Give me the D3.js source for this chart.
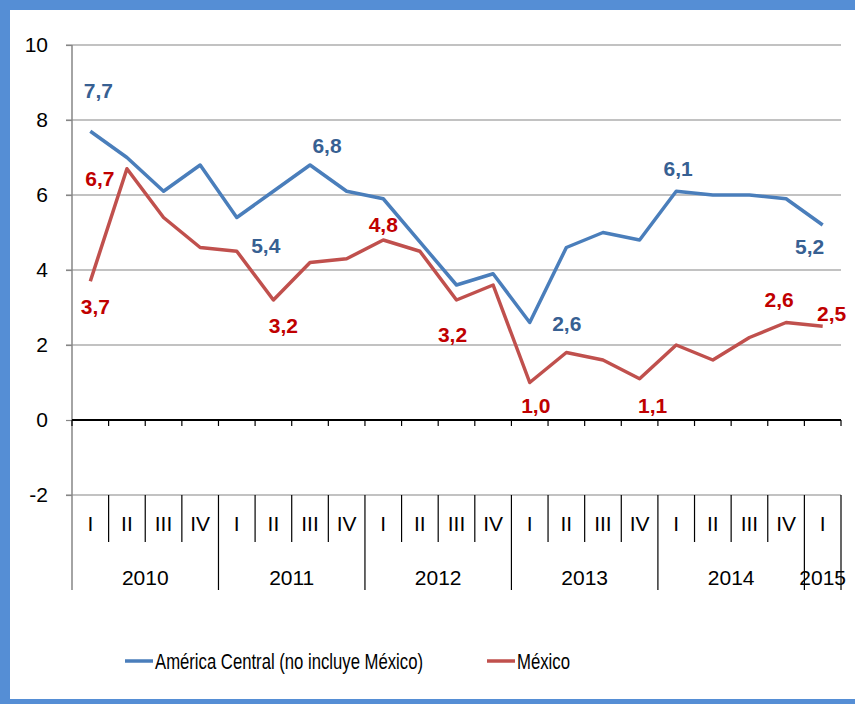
<!DOCTYPE html>
<html>
<head>
<meta charset="utf-8">
<script src="https://cdn.jsdelivr.net/npm/d3@7"></script>
<style>
  body { margin: 0; background: #fff; }
  svg text { font-family: "Liberation Sans", Arial, sans-serif; }
</style>
</head>
<body>
<div id="main"></div>
<script>
var quarters = ["I","II","III","IV","I","II","III","IV","I","II","III","IV","I","II","III","IV","I","II","III","IV","I"];
var years = ["2010","2011","2012","2013","2014","2015"];
var yearSpan = [4,4,4,4,4,1];
var yTicks = [-2,0,2,4,6,8,10];

var centralAmerica = [7.7,7.0,6.1,6.8,5.4,6.1,6.8,6.1,5.9,4.75,3.6,3.9,2.6,4.6,5.0,4.8,6.1,6.0,6.0,5.9,5.2];
var mexico = [3.7,6.7,5.4,4.6,4.5,3.2,4.2,4.3,4.8,4.5,3.2,3.6,1.0,1.8,1.6,1.1,2.0,1.6,2.2,2.6,2.5];

// labelled points: [index, dx, dy] relative to the point
var blueLabels = [[0,8,-41],[4,29,28],[6,17,-19],[12,37,1],[16,2,-23],[20,-13,22]];
var redLabels = [[0,5,25],[1,-27,10],[5,10,26],[8,0,-15],[10,-4,35],[12,6,23],[15,13,27],[19,-7,-23],[20,9,-13]];

var ctx = {w: 855, h: 704, left: 72, right: 841, top: 45};

var svg = d3.select("#main").append("svg")
  .attr("width", ctx.w).attr("height", ctx.h);

// frame
svg.append("rect").attr("x",0).attr("y",0).attr("width",ctx.w).attr("height",ctx.h).attr("fill","#558ED5");
svg.append("rect").attr("x",10).attr("y",10).attr("width",ctx.w-10).attr("height",689).attr("fill","#fff");

var x = d3.scaleBand().domain(d3.range(quarters.length)).range([ctx.left, ctx.right]);
var y = d3.scaleLinear().domain([-2,10]).range([495, ctx.top]);

// gridlines
svg.append("g").selectAll("line").data(yTicks.filter(function(d){return d!==0;})).enter()
  .append("line")
  .attr("x1", ctx.left-6).attr("x2", ctx.right)
  .attr("y1", function(d){return y(d);}).attr("y2", function(d){return y(d);})
  .attr("stroke", "#868686").attr("stroke-width", 1.2);

// y axis
var yAxis = svg.append("g").attr("transform", "translate("+ctx.left+",0)")
  .call(d3.axisLeft(y).tickValues(yTicks).tickSize(6).tickFormat(function(d){return String(d);}));
yAxis.select(".domain").remove();
yAxis.selectAll(".tick line").attr("stroke","#868686").attr("stroke-width",1.2);
yAxis.selectAll("text").attr("font-size", 21).attr("fill","#000").attr("x", -24)
  .attr("font-family","Liberation Sans, Arial, sans-serif");
svg.append("line").attr("x1",ctx.left).attr("x2",ctx.left).attr("y1",ctx.top).attr("y2",590)
  .attr("stroke","#868686").attr("stroke-width",1.5);

// zero axis
svg.append("line").attr("x1",ctx.left).attr("x2",ctx.right).attr("y1",y(0)).attr("y2",y(0))
  .attr("stroke","#000").attr("stroke-width",2.2);
svg.append("g").selectAll("line").data(d3.range(quarters.length+1)).enter().append("line")
  .attr("x1", function(i){return ctx.left + i*x.step();})
  .attr("x2", function(i){return ctx.left + i*x.step();})
  .attr("y1", y(0)).attr("y2", y(0)+6)
  .attr("stroke","#000").attr("stroke-width",1.2);

// category rows
var yearStart = [0];
yearSpan.forEach(function(s,i){ yearStart.push(yearStart[i]+s); });
svg.append("g").selectAll("line").data(d3.range(1, quarters.length+1)).enter().append("line")
  .attr("x1", function(i){return ctx.left + i*x.step();})
  .attr("x2", function(i){return ctx.left + i*x.step();})
  .attr("y1", 495)
  .attr("y2", function(i){return yearStart.indexOf(i) >= 0 ? 590 : 542;})
  .attr("stroke","#000").attr("stroke-width",1.2);

svg.append("g").selectAll("text").data(quarters).enter().append("text")
  .attr("x", function(d,i){return x(i)+x.bandwidth()/2;})
  .attr("y", 531)
  .attr("text-anchor","middle").attr("font-size",21).attr("fill","#000")
  .text(function(d){return d;});

svg.append("g").selectAll("text").data(years).enter().append("text")
  .attr("x", function(d,i){return ctx.left + (yearStart[i] + yearSpan[i]/2)*x.step();})
  .attr("y", 585)
  .attr("text-anchor","middle").attr("font-size",21).attr("fill","#000")
  .text(function(d){return d;});

// lines
var line = d3.line().x(function(d,i){return x(i)+x.bandwidth()/2;}).y(function(d){return y(d);});
svg.append("path").datum(mexico).attr("d", line)
  .attr("fill","none").attr("stroke","#C0504D").attr("stroke-width",3.5).attr("stroke-linejoin","round");
svg.append("path").datum(centralAmerica).attr("d", line)
  .attr("fill","none").attr("stroke","#4A7EBB").attr("stroke-width",3.5).attr("stroke-linejoin","round");

// value labels
var fmt = function(v){ return d3.format(".1f")(v).replace(".", ","); };
function addLabels(lbls, series, color){
  svg.append("g").selectAll("text").data(lbls).enter().append("text")
    .attr("x", function(d){return x(d[0])+x.bandwidth()/2 + d[1];})
    .attr("y", function(d){return y(series[d[0]]) + d[2];})
    .attr("dy", "0.35em")
    .attr("text-anchor","middle").attr("font-size",21).attr("font-weight","bold")
    .attr("fill", color)
    .text(function(d){return fmt(Math.round(series[d[0]]*10)/10);});
}
addLabels(blueLabels, centralAmerica, "#376092");
addLabels(redLabels, mexico, "#C00000");

// legend
var legend = [["América Central (no incluye México)", "#4A7EBB", 125, 268], ["México", "#C0504D", 487, 53]];
var lg = svg.append("g").selectAll("g").data(legend).enter().append("g");
lg.append("line").attr("x1", function(d){return d[2];}).attr("x2", function(d){return d[2]+28;})
  .attr("y1", 661).attr("y2", 661).attr("stroke", function(d){return d[1];}).attr("stroke-width",3.5);
lg.append("text").attr("x", function(d){return d[2]+30;}).attr("y", 661).attr("dy","0.35em")
  .attr("font-size",22).attr("fill","#000")
  .attr("textLength", function(d){return d[3];}).attr("lengthAdjust","spacingAndGlyphs")
  .text(function(d){return d[0];});
</script>
</body>
</html>
